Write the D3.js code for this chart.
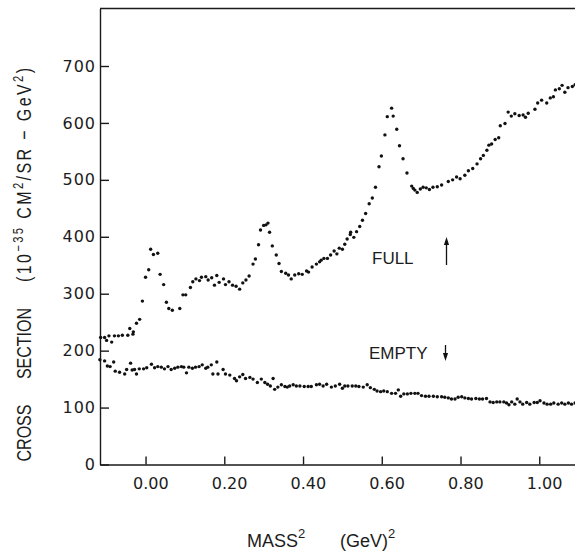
<!doctype html>
<html>
<head>
    <style>
        body {
            margin: 0;
            background: #fff;
        }

        svg {
            display: block;
        }

        .tick text {
            font-family: 'DejaVu Sans', sans-serif;
            font-size: 16px;
            fill: #1c1c1c;
        }

        .domain, .tick line, line.frame {
            stroke: #1a1a1a;
            stroke-width: 1.4;
        }

        text.title {
            font-family: 'Liberation Sans', sans-serif;
            font-size: 20px;
            fill: #1c1c1c;
        }

        text.xtitle {
            font-family: 'Liberation Sans', sans-serif;
            font-size: 18px;
            fill: #1c1c1c;
        }

        text.tag {
            font-family: 'Liberation Sans', sans-serif;
            font-size: 17px;
            fill: #1c1c1c;
        }

        circle.dot {
            fill: #111;
        }
    </style>
    <script src="https://d3js.org/d3.v7.min.js"></script>
</head>
<body>
<svg width="575" height="552"></svg>
<script>
    // values
    const fullMass = [-0.114,-0.104,-0.099,-0.093,-0.086,-0.079,-0.069,-0.059,-0.045,-0.040,
        -0.032,-0.031,-0.023,-0.015,-0.008,0.000,0.008,0.013,0.020,0.031,
        0.037,0.046,0.053,0.059,0.068,0.087,0.095,0.102,0.114,0.120,
        0.128,0.137,0.142,0.153,0.159,0.168,0.175,0.181,0.187,0.198,
        0.203,0.212,0.221,0.230,0.239,0.247,0.255,0.263,0.273,0.279,
        0.287,0.292,0.300,0.306,0.311,0.315,0.322,0.332,0.339,0.345,
        0.356,0.363,0.370,0.379,0.389,0.398,0.409,0.414,0.423,0.434,
        0.442,0.446,0.453,0.462,0.470,0.479,0.486,0.492,0.500,0.506,
        0.512,0.520,0.521,0.529,0.536,0.544,0.551,0.559,0.568,0.576,
        0.584,0.593,0.599,0.608,0.614,0.625,0.629,0.638,0.645,0.654,
        0.664,0.676,0.680,0.684,0.690,0.698,0.705,0.713,0.721,0.730,
        0.741,0.752,0.769,0.780,0.790,0.799,0.811,0.820,0.831,0.842,
        0.851,0.858,0.867,0.872,0.879,0.888,0.897,0.901,0.913,0.921,
        0.929,0.938,0.949,0.959,0.965,0.972,0.989,0.996,1.006,1.019,
        1.028,1.036,1.041,1.051,1.058,1.065,1.073,1.084,1.091]
    const fullSigma = [223,223,218,226,215,226,226,227,227,239,
        229,233,248,255,287,329,342,378,369,371,
        334,316,285,274,271,274,298,298,311,321,
        326,323,329,330,324,328,315,332,320,326,
        316,321,315,313,308,319,324,331,352,361,
        386,412,420,421,424,408,384,368,353,339,
        336,333,326,333,335,334,340,338,347,352,
        356,359,362,362,368,375,370,380,378,387,
        396,404,408,399,409,418,429,441,458,468,
        487,523,542,579,611,626,612,589,560,537,
        512,489,485,482,478,484,487,486,483,487,
        488,491,497,500,505,502,508,516,520,528,
        537,543,552,561,563,571,574,595,599,619,
        612,616,613,614,610,617,624,635,640,635,
        644,646,658,660,666,654,662,664,667]

    const emptyMass = [-0.116,-0.104,-0.097,-0.090,-0.081,-0.077,-0.066,-0.053,-0.048,-0.038,
        -0.034,-0.028,-0.023,-0.016,-0.005,0.003,0.015,0.023,0.031,0.040,
        0.048,0.057,0.065,0.074,0.082,0.091,0.097,0.104,0.110,0.119,
        0.127,0.136,0.144,0.153,0.158,0.167,0.171,0.181,0.184,0.197,
        0.203,0.214,0.226,0.231,0.239,0.247,0.254,0.265,0.273,0.284,
        0.294,0.303,0.310,0.317,0.324,0.328,0.336,0.345,0.354,0.360,
        0.366,0.375,0.383,0.392,0.403,0.413,0.421,0.434,0.442,0.451,
        0.460,0.472,0.482,0.493,0.500,0.506,0.514,0.525,0.534,0.542,
        0.553,0.563,0.571,0.581,0.588,0.597,0.605,0.614,0.625,0.635,
        0.642,0.648,0.656,0.665,0.674,0.684,0.692,0.701,0.711,0.720,
        0.731,0.741,0.752,0.760,0.769,0.777,0.786,0.794,0.803,0.811,
        0.820,0.828,0.839,0.848,0.856,0.866,0.875,0.883,0.892,0.900,
        0.910,0.917,0.923,0.930,0.938,0.944,0.951,0.958,0.968,0.976,
        0.987,0.995,1.002,1.012,1.020,1.029,1.037,1.048,1.057,1.065,
        1.074,1.082,1.091]
    const emptySigma = [184,182,173,172,180,164,162,159,167,178,
        166,167,159,168,168,170,176,170,172,171,
        168,172,167,169,171,172,171,161,171,169,
        171,172,175,169,171,175,159,180,159,167,
        159,157,151,147,154,158,151,153,150,144,
        150,144,141,138,151,132,136,140,137,136,
        138,140,138,138,137,137,137,140,141,138,
        141,136,138,141,134,138,138,138,138,137,
        136,140,135,132,129,128,129,128,125,125,
        131,120,124,124,125,125,125,121,120,120,
        120,119,119,118,117,115,115,118,119,117,
        116,115,116,115,115,116,110,109,110,110,
        110,108,105,110,106,115,110,106,109,106,
        109,109,112,108,106,106,108,106,108,106,
        108,106,108]

    const xTicks = [0, 0.2, 0.4, 0.6, 0.8, 1.0]
    const yTicks = [0, 100, 200, 300, 400, 500, 600, 700]

    const svg = d3.select('svg')

    const plotLeft = 100, plotRight = 575, plotTop = 8.5, plotBottom = 464.5

    const x = d3.scaleLinear()
        .domain([-0.1157, 1.0908])
        .range([plotLeft, plotRight])

    const y = d3.scaleLinear()
        .domain([0, 801])
        .range([plotBottom, plotTop])

    // frame on top
    svg.append('line')
        .attr('class', 'frame')
        .attr('x1', plotLeft).attr('x2', plotRight)
        .attr('y1', plotTop).attr('y2', plotTop)

    const xAxis = svg.append('g')
        .attr('transform', `translate(0, ${plotBottom})`)
        .call(d3.axisBottom(x)
            .tickValues(xTicks)
            .tickSize(-8)
            .tickSizeOuter(0)
            .tickFormat(d3.format('.2f')))

    xAxis.selectAll('.tick text')
        .attr('text-anchor', 'start')
        .attr('y', 24)
        .attr('dy', 0)
        .attr('dx', -13)

    const yAxis = svg.append('g')
        .attr('transform', `translate(${plotLeft}, 0)`)
        .call(d3.axisLeft(y)
            .tickValues(yTicks)
            .tickSize(-9)
            .tickSizeOuter(0)
            .tickPadding(4))

    yAxis.selectAll('.tick text')
        .attr('letter-spacing', 1)

    const plot = svg.append('g')

    plot.selectAll('circle.full')
        .data(d3.zip(fullMass, fullSigma))
        .enter()
        .append('circle')
        .attr('class', 'dot full')
        .attr('cx', d => x(d[0]))
        .attr('cy', d => y(d[1]))
        .attr('r', 1.7)

    plot.selectAll('circle.empty')
        .data(d3.zip(emptyMass, emptySigma))
        .enter()
        .append('circle')
        .attr('class', 'dot empty')
        .attr('cx', d => x(d[0]))
        .attr('cy', d => y(d[1]))
        .attr('r', 1.7)

    // FULL / EMPTY tags with arrows
    svg.append('text')
        .attr('class', 'tag')
        .attr('x', 372)
        .attr('y', 264)
        .text('FULL')

    svg.append('text')
        .attr('class', 'tag')
        .attr('x', 369)
        .attr('y', 359)
        .text('EMPTY')

    const arrow = (x0, yTail, yTip) => {
        const dir = yTip < yTail ? 1 : -1
        svg.append('line')
            .attr('x1', x0).attr('x2', x0)
            .attr('y1', yTail).attr('y2', yTip + dir * 4)
            .attr('stroke', '#111')
            .attr('stroke-width', 1.3)
        svg.append('path')
            .attr('d', `M${x0},${yTip} L${x0 - 2.6},${yTip + dir * 8} L${x0 + 2.6},${yTip + dir * 8} Z`)
            .attr('fill', '#111')
    }
    arrow(446.5, 265, 237)
    arrow(445.5, 345, 361)

    // axis titles, lettering is narrow so squeeze along the text
    const squeeze = 0.8
    const yTitle = (txt, center) => svg.append('text')
        .attr('class', 'title')
        .attr('transform', `translate(31, ${center}) rotate(-90) scale(${squeeze}, 1)`)
        .attr('text-anchor', 'middle')
        .text(txt)

    yTitle('CROSS', 433)
    yTitle('SECTION', 343.5)

    const unit = svg.append('text')
        .attr('class', 'title')
        .attr('transform', `translate(31, 175) rotate(-90) scale(${squeeze}, 1)`)
        .attr('text-anchor', 'middle')
        .attr('textLength', 214 / squeeze)
        .attr('lengthAdjust', 'spacing')
    unit.append('tspan').text('(10')
    unit.append('tspan').attr('font-size', 14).attr('dy', -8).text('−35')
    unit.append('tspan').attr('dy', 8).text(' CM')
    unit.append('tspan').attr('font-size', 14).attr('dy', -8).text('2')
    unit.append('tspan').attr('dy', 8).text('/SR − GeV')
    unit.append('tspan').attr('font-size', 14).attr('dy', -8).text('2')
    unit.append('tspan').attr('dy', 8).text(')')

    const xt = svg.append('text')
        .attr('class', 'xtitle')
        .attr('x', 247)
        .attr('y', 547)
    xt.append('tspan').text('MASS')
    xt.append('tspan').attr('font-size', 13).attr('dy', -9).text('2')
    xt.append('tspan').attr('x', 340).attr('dy', 9).text('(GeV)')
    xt.append('tspan').attr('font-size', 13).attr('dy', -9).text('2')
</script>
</body>
</html>
